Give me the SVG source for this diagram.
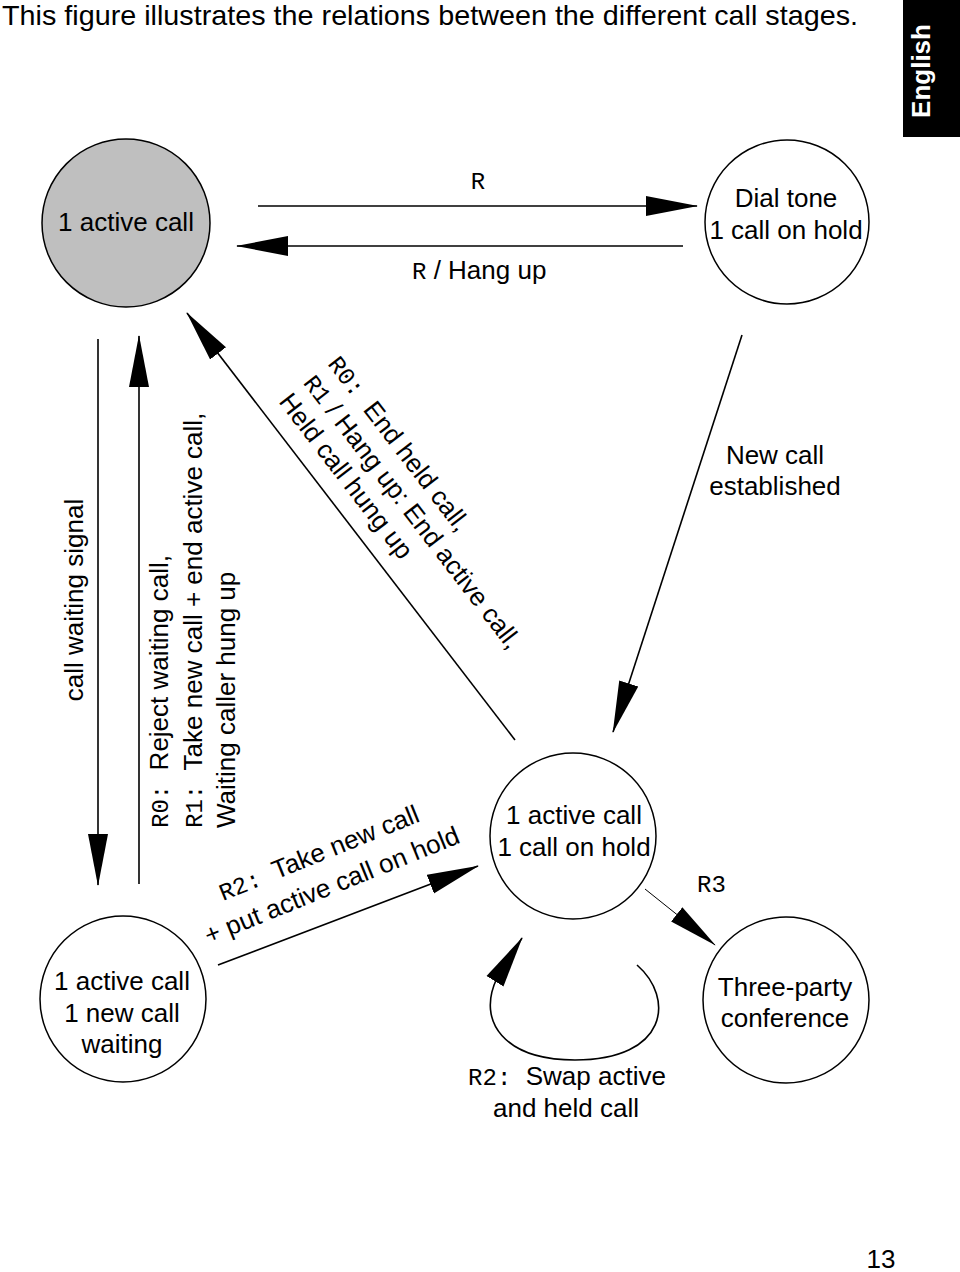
<svg xmlns="http://www.w3.org/2000/svg" width="960" height="1272" viewBox="0 0 960 1272">
<style>
.t{font-family:"Liberation Sans",Arial,sans-serif;font-size:26px;fill:#000}
.m{font-family:"Liberation Mono","Courier New",monospace;font-size:24px;fill:#000}
.c{text-anchor:middle}
.n{fill:#fff;stroke:#000;stroke-width:1.5}
.ln{fill:none;stroke:#000;stroke-width:1.6}
</style>
<defs>
<marker id="ah" markerUnits="userSpaceOnUse" viewBox="0 0 52 22" markerWidth="52" markerHeight="22" refX="51" refY="11" orient="auto"><path d="M0,1 L52,11 L0,21 z" fill="#000"/></marker>
<marker id="ah3" markerUnits="userSpaceOnUse" viewBox="0 0 50 20" markerWidth="50" markerHeight="20" refX="49" refY="10" orient="auto"><path d="M0,1 L50,10 L0,19 z" fill="#000"/></marker>
</defs>
<rect width="960" height="1272" fill="#fff"/>
<text x="2" y="25" textLength="856" lengthAdjust="spacingAndGlyphs" style="font-family:'Liberation Sans',Arial,sans-serif;font-size:28px">This figure illustrates the relations between the different call stages.</text>
<g id="tab">
<rect x="903" y="0" width="57" height="137" fill="#000"/>
<text transform="translate(930,71) rotate(-90)" text-anchor="middle" style="font-family:'Liberation Sans',Arial,sans-serif;font-size:26px;font-weight:bold;fill:#fff">English</text>
</g>
<g id="connectors">
<line class="ln" x1="258" y1="206" x2="697" y2="206" marker-end="url(#ah)"/>
<line class="ln" x1="683" y1="246" x2="237" y2="246" marker-end="url(#ah)"/>
<line class="ln" x1="98" y1="339" x2="98" y2="885" marker-end="url(#ah)"/>
<line class="ln" x1="139" y1="884" x2="139" y2="336" marker-end="url(#ah)"/>
<line class="ln" x1="515" y1="740" x2="187" y2="313" marker-end="url(#ah)"/>
<line class="ln" x1="742" y1="335" x2="613" y2="732" marker-end="url(#ah)"/>
<line class="ln" x1="218" y1="965" x2="478" y2="866" marker-end="url(#ah)"/>
<line x1="645" y1="889" x2="715" y2="945" stroke="#000" stroke-width="1" marker-end="url(#ah3)"/>
<path class="ln" d="M637,965 C675,998 668,1060 575,1060 C505,1060 476,1022 497,978 L522,938" marker-end="url(#ah)"/>
<text class="m" x="478" y="189" text-anchor="middle">R</text>
<text x="412" y="279"><tspan class="m">R</tspan><tspan class="t"> / Hang up</tspan></text>
<text class="t" transform="translate(83,600) rotate(-90)" text-anchor="middle">call waiting signal</text>
<text transform="translate(168,828) rotate(-90)"><tspan x="0" y="0" class="m">R0: </tspan><tspan class="t">Reject waiting call,</tspan><tspan x="0" y="34" class="m">R1: </tspan><tspan class="t">Take new call + end active call,</tspan><tspan x="0" y="67" class="t">Waiting caller hung up</tspan></text>
<text transform="translate(327,364) rotate(52.4)"><tspan x="0" y="0" class="m">R0: </tspan><tspan class="t">End held call,</tspan><tspan x="0" y="31" class="m">R1</tspan><tspan class="t"> / Hang up: End active call,</tspan><tspan x="0" y="62" class="t">Held call hung up</tspan></text>
<text transform="translate(322,861) rotate(-22)" text-anchor="middle"><tspan x="0" y="0" class="m">R2: </tspan><tspan class="t">Take new call</tspan><tspan x="0" y="35" class="t">+ put active call on hold</tspan></text>
<text class="t c" x="775" y="464">New call</text>
<text class="t c" x="775" y="495">established</text>
<text class="m" x="697" y="892">R3</text>
<text x="567" y="1085" text-anchor="middle"><tspan class="m">R2: </tspan><tspan class="t">Swap active</tspan></text>
<text class="t c" x="566" y="1117">and held call</text>
</g>
<g id="n-active">
<circle cx="126" cy="223" r="84" fill="#bfbfbf" stroke="#000" stroke-width="1.5"/>
<text class="t c" x="126" y="231">1 active call</text>
</g>
<g id="n-dialtone">
<circle class="n" cx="787" cy="222" r="82"/>
<text class="t c" x="786" y="207">Dial tone</text>
<text class="t c" x="786" y="239">1 call on hold</text>
</g>
<g id="n-waiting">
<circle class="n" cx="123" cy="999" r="83"/>
<text class="t c" x="122" y="990">1 active call</text>
<text class="t c" x="122" y="1022">1 new call</text>
<text class="t c" x="122" y="1053">waiting</text>
</g>
<g id="n-hold">
<circle class="n" cx="573" cy="836" r="83"/>
<text class="t c" x="574" y="824">1 active call</text>
<text class="t c" x="574" y="856">1 call on hold</text>
</g>
<g id="n-conf">
<circle class="n" cx="786" cy="1000" r="83"/>
<text class="t c" x="785" y="996">Three-party</text>
<text class="t c" x="785" y="1027">conference</text>
</g>
<text class="t" x="881" y="1268" text-anchor="middle">13</text>
</svg>
